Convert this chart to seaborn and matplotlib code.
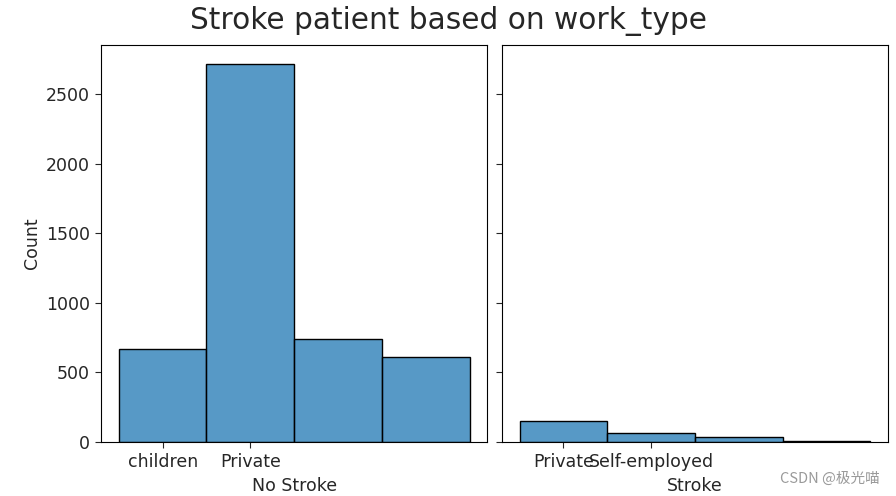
import matplotlib
matplotlib.use("Agg")
import matplotlib.pyplot as plt
import seaborn as sns
import pandas as pd

# counts
no_stroke_types = ["children", "Private", "Self-employed", "Govt_job"]
no_stroke_counts = [668, 2716, 740, 611]
stroke_types = ["Private", "Self-employed", "Govt_job", "children"]
stroke_counts = [149, 65, 33, 5]
shown_left = ["children", "Private"]
shown_right = ["Private", "Self-employed"]

plt.rcParams["font.size"] = 12.5
plt.rcParams["text.color"] = "#262626"
plt.rcParams["axes.labelcolor"] = "#262626"
plt.rcParams["xtick.color"] = "#262626"
plt.rcParams["ytick.color"] = "#262626"

df_no = pd.DataFrame({"work_type": no_stroke_types, "n": no_stroke_counts})
df_st = pd.DataFrame({"work_type": stroke_types, "n": stroke_counts})

fig, axes = plt.subplots(1, 2, figsize=(8.96, 4.96), dpi=100, sharey=True)
plt.subplots_adjust(left=0.113, right=0.991, top=0.909, bottom=0.109, wspace=0.039)

sns.histplot(data=df_no, x="work_type", weights="n", ax=axes[0])
sns.histplot(data=df_st, x="work_type", weights="n", ax=axes[1])

axes[0].set_xticks(range(len(shown_left)), shown_left)
axes[1].set_xticks(range(len(shown_right)), shown_right)
axes[0].set_xlabel("No Stroke", labelpad=4)
axes[1].set_xlabel("Stroke", labelpad=4)
axes[0].set_ylabel("Count")
axes[1].set_ylabel("")
for ax in axes:
    ax.tick_params(length=4.5)

fig.suptitle("Stroke patient based on work_type", size=21.3, y=0.988)
fig.text(0.982, 0.02, "CSDN @极光喵", ha="right", va="bottom", fontsize=10.5,
         color="#9a9a9a", family=["Noto Sans CJK SC", "DejaVu Sans"])

plt.savefig("out.png", dpi=100)
